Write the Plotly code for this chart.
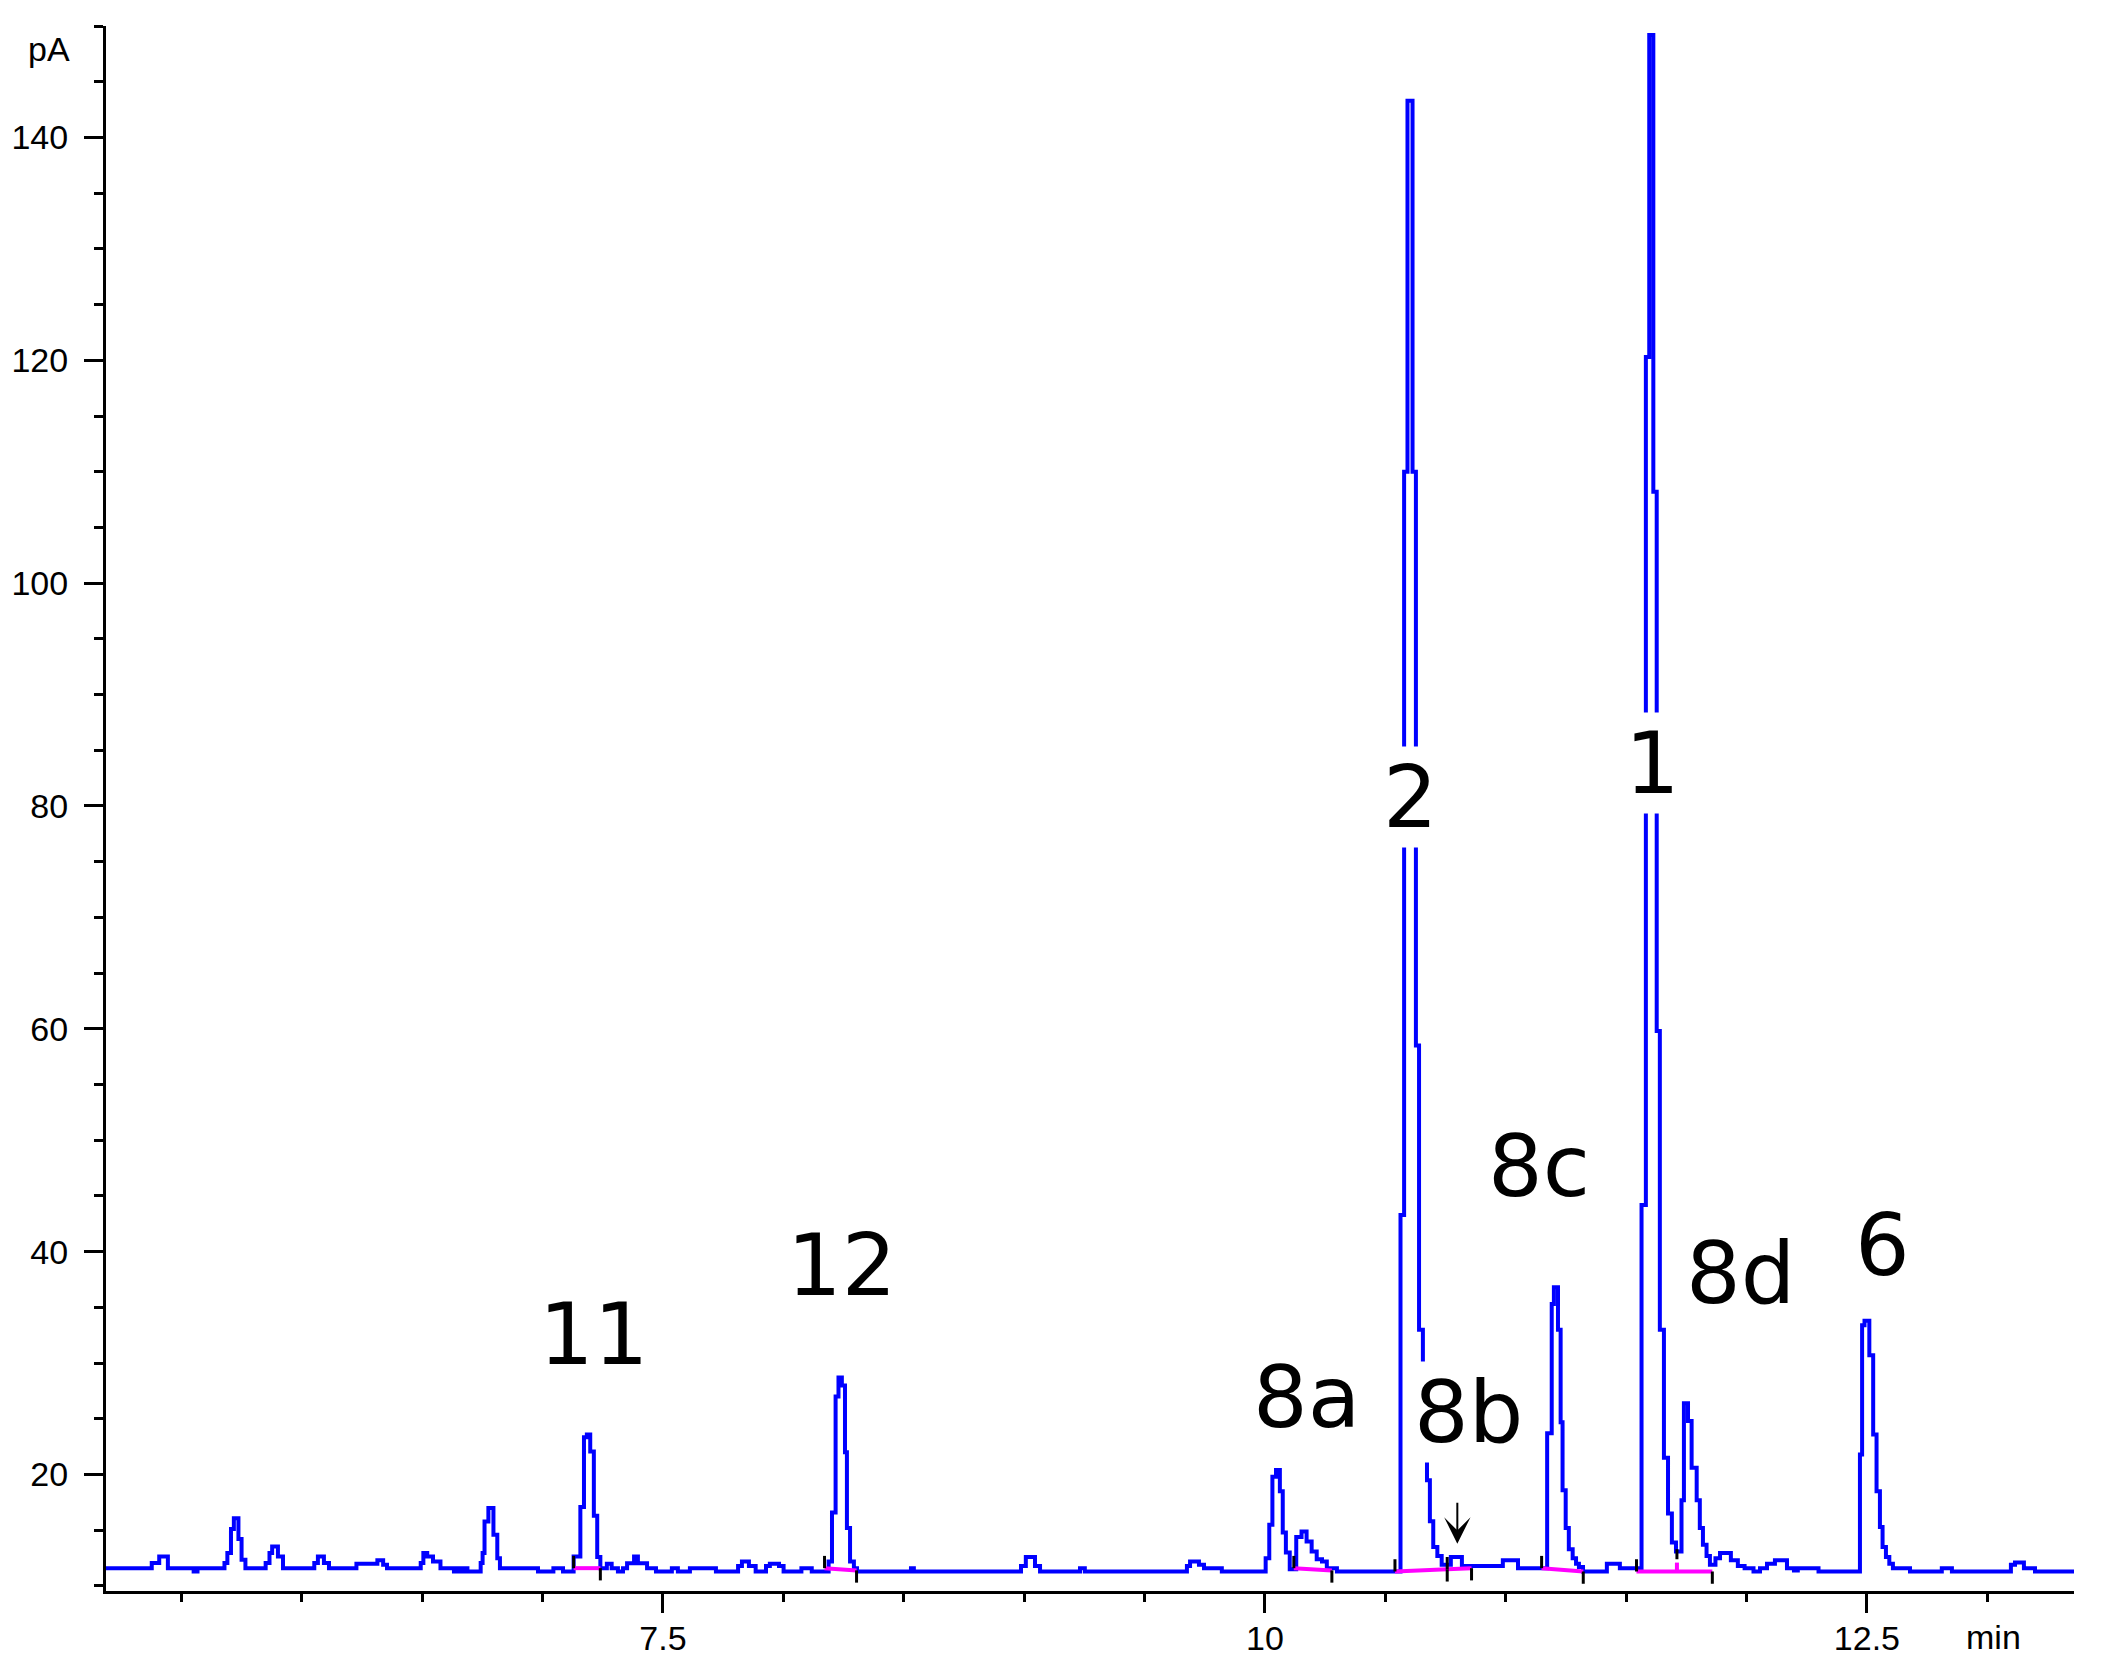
import plotly.graph_objects as go

# ---------------- data ----------------
time_min = [5.187, 5.377, 5.408, 5.444, 5.551, 5.567, 5.679, 5.691, 5.706, 5.718,
            5.737, 5.750, 5.766, 5.850, 5.866, 5.877, 5.901, 5.922, 6.052, 6.067,
            6.092, 6.113, 6.227, 6.314, 6.338, 6.354, 6.494, 6.505, 6.521, 6.545,
            6.576, 6.632, 6.648, 6.664, 6.680, 6.688, 6.743, 6.751, 6.759, 6.775,
            6.796, 6.812, 6.823, 6.981, 7.045, 7.085, 7.129, 7.157, 7.172, 7.184,
            7.198, 7.213, 7.227, 7.240, 7.267, 7.287, 7.313, 7.334, 7.351, 7.380,
            7.396, 7.434, 7.471, 7.537, 7.562, 7.612, 7.720, 7.812, 7.828, 7.857,
            7.885, 7.928, 7.944, 7.982, 8.001, 8.075, 8.118, 8.188, 8.202, 8.217,
            8.229, 8.243, 8.256, 8.264, 8.277, 8.293, 8.306, 8.530, 8.542, 8.987,
            9.007, 9.045, 9.066, 9.232, 9.252, 9.676, 9.689, 9.726, 9.747, 9.821,
            10.003, 10.018, 10.031, 10.046, 10.062, 10.074, 10.087, 10.103, 10.130, 10.152,
            10.173, 10.194, 10.215, 10.237, 10.257, 10.299, 10.563, 10.578, 10.592, 10.613,
            10.627, 10.640, 10.656, 10.673, 10.685, 10.699, 10.716, 10.734, 10.772, 10.818,
            10.988, 11.051, 11.172, 11.191, 11.200, 11.217, 11.228, 11.236, 11.249, 11.262,
            11.278, 11.292, 11.304, 11.321, 11.420, 11.474, 11.564, 11.582, 11.596, 11.613,
            11.627, 11.640, 11.657, 11.674, 11.690, 11.707, 11.730, 11.740, 11.757, 11.772,
            11.793, 11.806, 11.819, 11.834, 11.848, 11.871, 11.890, 11.935, 11.964, 11.992,
            12.029, 12.056, 12.085, 12.118, 12.168, 12.197, 12.213, 12.299, 12.471, 12.480,
            12.490, 12.510, 12.526, 12.540, 12.554, 12.565, 12.579, 12.593, 12.608, 12.679,
            12.811, 12.853, 13.098, 13.115, 13.152, 13.198, 13.360]

signal_pA = [11.6, 12.06, 12.65, 11.6, 11.3, 11.6, 12.06, 12.96, 15.11, 16.09,
             14.21, 12.36, 11.6, 12.06, 12.96, 13.55, 12.65, 11.6, 12.06, 12.65,
             12.06, 11.6, 12.0, 12.3, 11.9, 11.6, 12.06, 12.96, 12.65, 12.2,
             11.6, 11.3, 11.6, 11.3, 11.6, 11.3, 12.06, 12.96, 15.79, 16.99,
             14.6, 12.5, 11.6, 11.3, 11.6, 11.3, 12.65, 17.08, 23.35, 23.6,
             22.06, 16.3, 12.6, 11.6, 12.0, 11.6, 11.3, 11.6, 12.05, 12.65,
             12.05, 11.6, 11.3, 11.6, 11.3, 11.6, 11.3, 11.8, 12.2, 11.8,
             11.3, 11.8, 12.0, 11.8, 11.3, 11.6, 11.3, 12.2, 16.6, 27.0,
             28.7, 28.0, 22.0, 15.2, 12.2, 11.6, 11.3, 11.6, 11.3, 11.8,
             12.6, 11.8, 11.3, 11.6, 11.3, 11.8, 12.2, 11.9, 11.6, 11.3,
             12.5, 15.5, 19.8, 20.4, 18.5, 14.8, 13.0, 11.5, 14.4, 14.9,
             14.0, 13.1, 12.4, 12.2, 11.6, 11.3, 43.3, 110.0, 143.3, 110.0,
             58.5, 33.0, 22.0, 19.5, 15.8, 13.5, 12.7, 11.9, 12.6, 11.8,
             12.3, 11.6, 23.7, 35.3, 36.8, 33.0, 24.7, 18.6, 15.2, 13.3,
             12.5, 12.0, 11.7, 11.3, 12.0, 11.6, 44.2, 120.3, 149.2, 108.2,
             59.8, 33.0, 21.5, 16.5, 13.9, 13.1, 17.7, 26.4, 24.8, 20.6,
             17.7, 15.2, 13.7, 12.7, 11.9, 12.5, 12.96, 12.3, 11.8, 11.6,
             11.3, 11.6, 12.0, 12.3, 11.6, 11.4, 11.6, 11.3, 21.8, 33.4,
             33.8, 30.7, 23.6, 18.5, 15.3, 13.5, 12.6, 12.0, 11.6, 11.3,
             11.6, 11.3, 11.9, 12.1, 11.6, 11.3, 11.3]

assert len(time_min) == len(signal_pA)

peak_labels = ["11", "12", "8a", "8b", "2", "8c", "1", "8d", "6"]
label_time = [7.213, 8.243, 10.174, 10.847, 10.603, 11.138, 11.611, 11.973, 12.563]
label_pA = [32.6, 38.8, 27.0, 25.6, 80.8, 47.7, 83.9, 38.1, 40.6]

# integration events (start / end of integrated peaks)
integ_start = [7.129, 8.171, 10.120, 10.540, 10.757, 11.149, 11.543]
integ_start_pA = [11.6, 11.6, 11.6, 11.3, 11.5, 11.6, 11.3]
integ_end = [7.240, 8.304, 10.278, 10.757, 10.858, 11.322, 11.858]
integ_end_pA = [11.6, 11.4, 11.4, 11.5, 11.6, 11.3, 11.3]
valley_time = [11.711]
valley_base_pA = [11.3]
valley_signal_pA = [13.3]

arrow_time = 10.799
arrow_tip_pA = 13.8
arrow_tail_pA = 17.6

# ---------------- figure ----------------
fig = go.Figure()

fig.add_trace(go.Scatter(x=time_min, y=signal_pA, mode="lines",
                         line=dict(color="#0000FF", width=4, shape="hv"),
                         hoverinfo="skip", showlegend=False))

# magenta integration baselines
mx, my = [], []
for s, sp, e, ep in zip(integ_start, integ_start_pA, integ_end, integ_end_pA):
    mx += [s, e, None]
    my += [sp, ep, None]
for v, vb, vs in zip(valley_time, valley_base_pA, valley_signal_pA):
    mx += [v, v, None]
    my += [vb, vb + 0.8, None]
fig.add_trace(go.Scatter(x=mx, y=my, mode="lines",
                         line=dict(color="#FF00FF", width=4),
                         hoverinfo="skip", showlegend=False))

# black event markers
kx, ky = [], []
mark = 1.1
for s, sp in zip(integ_start, integ_start_pA):
    kx += [s, s, None]
    ky += [sp, sp + mark, None]
for e, ep in zip(integ_end, integ_end_pA):
    kx += [e, e, None]
    ky += [ep, ep - mark, None]
for v, vb, vs in zip(valley_time, valley_base_pA, valley_signal_pA):
    kx += [v, v, None]
    ky += [vs - 0.9, vs, None]
fig.add_trace(go.Scatter(x=kx, y=ky, mode="lines",
                         line=dict(color="black", width=3),
                         hoverinfo="skip", showlegend=False))

for txt, tx, ty in zip(peak_labels, label_time, label_pA):
    fig.add_annotation(x=tx, y=ty, text=txt, showarrow=False,
                       font=dict(family="DejaVu Sans", size=86, color="black"),
                       bgcolor="white", borderpad=0,
                       xanchor="center", yanchor="middle")

fig.add_annotation(x=arrow_time, y=arrow_tip_pA, ax=arrow_time, ay=arrow_tail_pA,
                   xref="x", yref="y", axref="x", ayref="y", text="",
                   showarrow=True, arrowhead=3, arrowsize=2.2, arrowwidth=2,
                   arrowcolor="black")

fig.add_annotation(x=-0.0173, y=0.985, xref="paper", yref="paper", text="pA",
                   showarrow=False, xanchor="right", yanchor="middle",
                   font=dict(family="Liberation Sans", size=34, color="black"))
fig.add_annotation(x=0.9593, y=-0.0294, xref="paper", yref="paper", text="min",
                   showarrow=False, xanchor="center", yanchor="middle",
                   font=dict(family="Liberation Sans", size=34, color="black"))

axis_font = dict(family="Liberation Sans", size=34, color="black")
fig.update_xaxes(range=[5.187, 13.36], showline=True, linecolor="black", linewidth=3,
                 showgrid=False, zeroline=False, ticks="outside", tickmode="linear",
                 tick0=0, dtick=2.5, ticklen=19, tickwidth=3, tickcolor="black",
                 tickfont=axis_font, automargin=False, ticklabelstandoff=-4,
                 minor=dict(ticks="outside", tickmode="linear", tick0=0, dtick=0.5,
                            ticklen=8, tickwidth=3, tickcolor="black", showgrid=False))
fig.update_yaxes(range=[9.55, 150], showline=True, linecolor="black", linewidth=3,
                 showgrid=False, zeroline=False, ticks="outside", tickmode="linear",
                 tick0=0, dtick=20, ticklen=19, tickwidth=3, tickcolor="black",
                 tickfont=axis_font, ticklabelstandoff=9, automargin=False,
                 minor=dict(ticks="outside", tickmode="linear", tick0=0, dtick=5,
                            ticklen=9, tickwidth=3, tickcolor="black", showgrid=False))

# page body has an 8px margin; size the figure so the plot area lands where the reference has it
fig.update_layout(width=2094, height=1655,
                  margin=dict(l=98, r=28, t=18, b=72),
                  plot_bgcolor="white", paper_bgcolor="white",
                  showlegend=False)

fig.write_html("out.html")
